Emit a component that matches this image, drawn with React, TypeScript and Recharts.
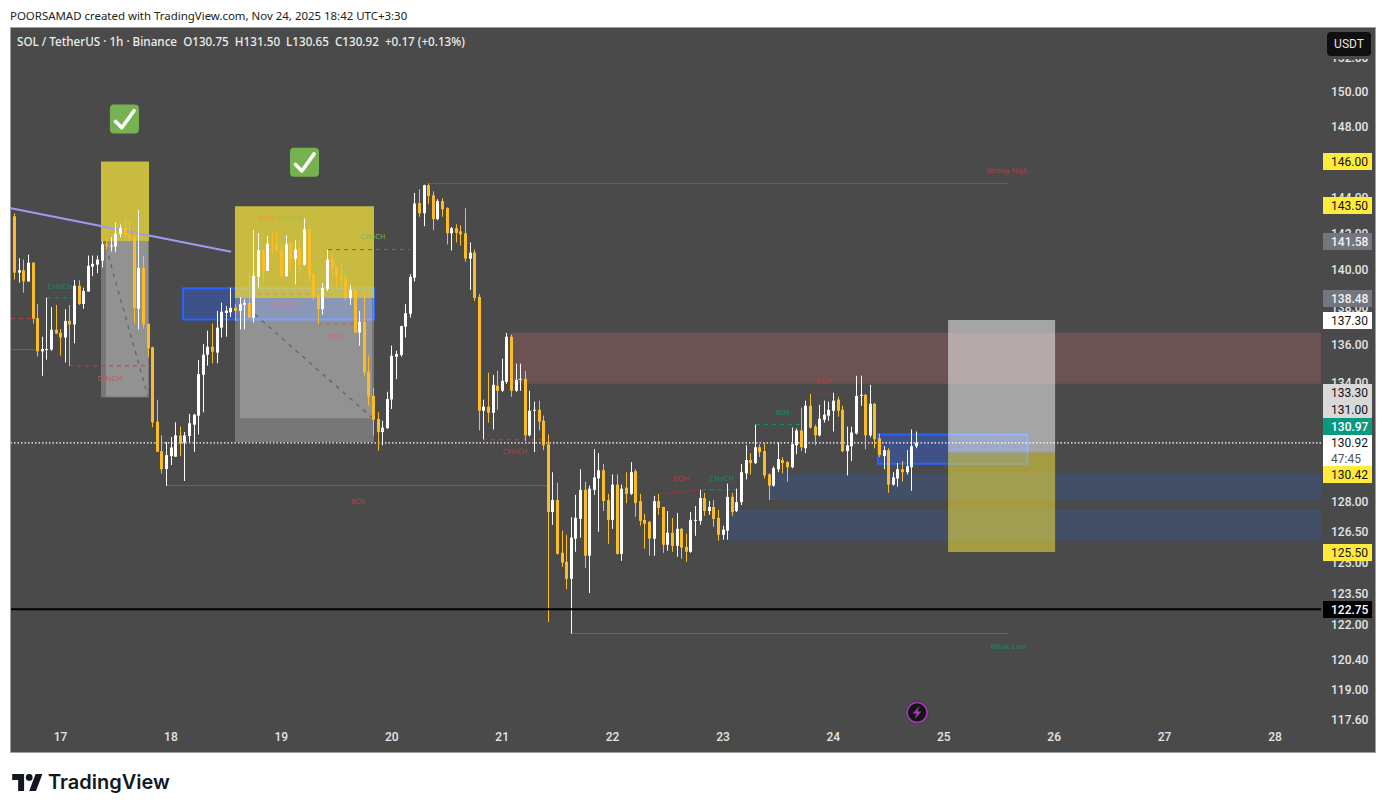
import React from "react";
import {
  ComposedChart, Bar, XAxis, YAxis, ReferenceArea, ReferenceLine, ReferenceDot,
} from "recharts";

// ---------- candle values (1h, first candle = Nov 16 14:00, hour 0 = Nov 17 00:00) ----------
const firstHour = -10;
const opens = [
  142.94,139.85,139.98,139.37,140.39,137.41,135.65,135.74,135.74,136.79,
  136.63,136.38,137.26,137.07,139.14,138.16,138.83,140.18,140.28,140.50,
  141.39,141.28,141.28,141.96,142.28,141.89,141.78,137.91,140.11,137.10,
  135.86,132.00,130.50,129.60,130.25,130.22,131.30,130.95,131.27,131.85,
  132.31,134.42,135.47,135.89,135.58,136.90,137.68,137.72,137.95,137.79,
  138.12,138.22,137.42,139.62,141.06,139.95,141.44,141.44,141.11,139.66,
  141.44,140.61,141.17,140.28,142.22,139.78,138.65,137.89,138.96,140.56,
  140.17,139.68,139.51,138.47,138.90,136.64,137.21,134.58,133.33,132.14,
  131.47,131.67,133.14,135.37,135.46,136.95,137.64,139.58,143.67,143.11,
  144.67,144.11,142.78,143.78,143.39,142.00,142.28,142.11,142.00,140.61,
  140.94,138.54,132.56,132.77,132.46,133.85,133.59,134.05,136.42,133.59,
  134.16,134.21,131.30,132.56,132.61,132.05,130.85,127.46,128.05,125.46,
  125.02,124.20,126.15,127.12,128.56,125.32,128.56,129.13,129.54,128.05,
  127.07,128.82,125.41,128.67,128.36,129.49,128.00,127.07,126.97,126.15,
  128.00,127.71,125.85,126.44,125.80,126.63,125.75,125.51,127.02,127.02,
  128.15,127.51,127.71,127.17,126.34,126.54,128.21,127.51,127.95,129.38,
  130.05,129.90,130.70,130.50,129.33,128.77,129.59,130.05,129.95,129.69,
  130.80,131.55,130.65,132.82,131.75,131.30,132.10,132.31,132.56,133.13,
  132.61,130.50,130.75,131.40,133.33,133.38,131.30,132.92,131.15,130.25,
  130.55,128.82,129.13,129.59,129.44,129.69,130.75,
];
const highs = [
  143.09,140.63,140.56,140.83,140.41,138.15,136.42,138.50,138.00,138.11,
  136.83,137.88,138.11,139.46,139.44,139.04,140.78,140.78,140.78,141.57,
  141.83,141.79,142.59,142.48,142.76,142.68,142.07,143.28,140.78,137.12,
  135.89,133.13,131.30,130.97,131.22,131.97,131.75,131.47,132.40,132.40,
  135.19,136.04,136.74,137.12,137.79,138.23,138.05,139.04,138.15,138.54,
  138.42,139.85,142.17,142.02,141.15,141.83,142.11,142.11,141.52,141.89,
  141.61,141.61,141.61,142.82,142.44,139.82,138.69,139.28,141.09,140.96,
  140.17,140.32,139.77,139.17,138.92,137.79,138.86,135.42,133.73,132.48,
  132.05,133.54,135.95,135.68,137.00,138.15,139.77,144.24,144.44,144.70,
  144.76,144.33,143.89,143.94,143.44,142.35,142.50,142.44,143.39,141.50,
  141.11,138.70,133.13,134.53,134.42,134.63,135.26,136.62,136.53,135.00,
  135.00,134.63,133.59,133.03,133.08,132.31,131.35,129.44,128.92,126.54,
  126.34,127.20,128.31,129.59,128.97,128.77,130.60,130.40,129.85,128.36,
  129.33,129.33,128.82,129.44,129.95,129.59,128.36,127.37,127.02,128.26,
  128.36,127.71,127.51,127.17,127.41,126.68,126.39,127.46,127.76,128.56,
  128.41,128.00,128.05,127.56,126.78,128.87,128.41,128.62,129.85,130.80,
  130.40,131.85,130.85,130.90,129.38,129.74,130.95,130.20,130.00,131.70,
  131.65,132.72,133.08,133.43,131.85,132.87,133.08,133.03,133.49,133.28,
  132.82,131.75,131.75,134.37,134.37,133.43,133.90,132.97,131.40,130.75,
  130.65,129.44,129.90,130.00,130.55,131.60,131.50,
];
const lows = [
  139.48,139.31,138.77,139.37,137.12,135.38,134.37,135.21,135.68,136.56,
  135.42,135.07,134.88,136.07,138.11,137.91,138.83,139.66,139.82,140.13,
  141.06,141.00,140.96,141.78,141.76,141.57,137.12,136.81,136.86,135.33,
  131.72,130.47,129.37,128.75,129.80,130.22,130.25,129.00,130.97,130.47,
  131.35,132.48,134.90,135.02,135.02,136.38,136.42,137.47,137.26,136.81,
  136.81,137.41,137.17,139.04,139.31,139.95,140.87,141.00,139.62,139.62,
  139.85,139.22,139.77,140.22,139.31,138.36,137.09,137.60,138.86,139.58,
  139.01,138.96,138.36,138.11,136.60,135.95,134.37,132.82,131.30,130.53,
  130.80,131.64,132.65,134.19,135.37,136.38,137.44,139.37,142.91,142.39,
  143.61,142.17,142.72,142.91,141.39,141.06,141.50,141.33,140.44,138.92,
  138.32,131.55,131.10,131.95,131.60,132.61,133.54,133.95,133.28,133.54,
  133.59,131.00,131.25,130.45,131.55,130.55,122.14,126.83,125.38,124.78,
  123.71,121.59,125.51,126.20,124.73,123.52,128.31,126.49,127.51,125.90,
  126.63,125.37,125.07,127.90,128.30,127.22,126.78,125.66,125.32,125.32,
  127.32,125.46,125.56,125.51,125.27,125.17,125.02,125.46,126.29,126.83,
  127.27,127.32,126.73,126.05,126.10,126.10,127.27,127.46,127.80,129.08,
  129.33,129.85,130.20,129.13,128.05,128.72,129.44,129.38,128.97,129.64,
  130.35,130.50,130.40,131.65,130.80,131.25,131.95,132.05,131.50,132.26,
  130.45,129.28,130.00,131.35,132.82,130.60,131.20,130.65,130.20,129.59,
  128.41,128.77,128.72,128.97,129.33,128.51,130.65,
];
const closes = [
  139.85,139.98,139.37,140.39,137.38,135.65,135.77,135.77,136.79,136.59,
  136.38,137.26,137.07,139.14,138.16,138.86,140.22,140.33,140.56,141.39,
  141.33,141.33,141.98,142.28,141.89,141.72,137.95,140.11,137.07,135.81,
  131.97,130.47,129.59,130.30,130.69,131.30,130.89,131.30,131.92,132.36,
  134.46,135.47,135.89,135.63,136.90,137.74,137.81,137.95,137.79,138.15,
  138.22,137.42,139.68,141.06,139.95,141.43,141.41,141.06,139.65,141.39,
  140.60,141.11,140.28,142.22,139.73,138.54,137.89,139.03,140.56,140.13,
  139.62,139.46,138.47,138.92,136.64,137.21,134.54,133.30,132.10,131.47,
  131.70,133.16,135.42,135.51,136.98,137.67,139.62,143.65,143.11,144.67,
  144.06,142.78,143.78,143.33,142.00,142.28,142.02,141.94,140.61,140.94,
  138.49,132.56,132.77,132.46,133.90,133.59,134.11,136.42,133.59,134.16,
  134.21,131.30,132.56,132.61,132.00,130.80,127.46,128.05,125.41,124.98,
  124.20,126.20,127.17,128.56,125.32,128.62,129.18,129.54,128.00,127.07,
  128.82,125.41,128.62,128.36,129.44,127.90,127.02,126.88,126.15,128.00,
  127.66,125.85,126.44,125.80,126.63,125.71,125.51,127.07,127.07,128.15,
  127.51,127.71,127.12,126.34,126.59,128.21,127.46,127.95,129.44,130.05,
  129.90,130.70,130.45,129.28,128.77,129.64,130.10,129.90,129.69,130.85,
  131.55,130.70,132.82,131.70,131.30,132.15,132.36,132.61,133.08,132.56,
  130.50,130.80,131.45,133.33,133.38,131.30,132.92,131.10,130.30,130.55,
  128.82,129.18,129.59,129.44,129.74,130.75,130.92,
];

// ---------- axis values ----------
const dayLabels = ["17","18","19","20","21","22","23","24","25","26","27","28"];
const dayTicks = dayLabels.map((_, i) => i * 24);
const priceTicks = [152,150,148,144,142,140,138,136,134,128,126.5,125,123.5,122,120.4,119,117.6];
const HOUR_DOMAIN = [-10.76, 274];
const PRICE_DOMAIN = [117.36, 153.7];

// ---------- drawings, in hours / prices ----------
const zones = [
  { x1: 97.72, x2: 274, y1: 133.95, y2: 136.63, fill: "#6B5353", op: 1 },
  { x1: 154.24, x2: 274, y1: 128.05, y2: 129.38, fill: "#434F66", op: 1 },
  { x1: 144.89, x2: 274, y1: 126.05, y2: 127.56, fill: "#434F66", op: 1 },
];
const blueBoxes = [
  { x1: 26.63, x2: 68.15, y1: 137.33, y2: 139.0 },
  { x1: 177.72, x2: 210.2, y1: 129.87, y2: 131.35 },
];
const overlayBoxes = [
  { x1: 8.8, x2: 19.24, y1: 141.58, y2: 146.0, fill: "#FFEB3B", op: 0.7 },
  { x1: 8.8, x2: 19.24, y1: 133.25, y2: 141.58, fill: "#FFFFFF", op: 0.25 },
  { x1: 9.89, x2: 19.02, y1: 133.3, y2: 141.58, fill: "#FFFFFF", op: 0.2 },
  { x1: 37.93, x2: 68.15, y1: 138.48, y2: 143.5, fill: "#FFEB3B", op: 0.7 },
  { x1: 37.93, x2: 68.15, y1: 130.97, y2: 138.48, fill: "#FFFFFF", op: 0.25 },
  { x1: 39.02, x2: 67.72, y1: 132.17, y2: 138.48, fill: "#FFFFFF", op: 0.2 },
  { x1: 192.93, x2: 216.2, y1: 130.42, y2: 137.3, fill: "#FFFFFF", op: 0.5 },
  { x1: 192.93, x2: 216.2, y1: 125.5, y2: 130.42, fill: "#FFEB3B", op: 0.5 },
];
const RED = "#C23B45";
const TEAL = "#089981";
const segments = [
  { x1: 79.89, x2: 205.98, y1: 144.76, y2: 144.76, c: RED, w: 1, d: "" },
  { x1: 23.15, x2: 105.76, y1: 128.77, y2: 128.77, c: RED, w: 1, d: "" },
  { x1: 110.98, x2: 205.98, y1: 121.6, y2: 121.6, c: TEAL, w: 1, d: "" },
  { x1: -10.76, x2: -5.11, y1: 135.74, y2: 135.74, c: RED, w: 1, d: "" },
  { x1: -10.76, x2: -5.33, y1: 137.38, y2: 137.38, c: RED, w: 1, d: "4 4" },
  { x1: -2.93, x2: 2.72, y1: 138.49, y2: 138.49, c: TEAL, w: 1, d: "4 4" },
  { x1: 1.85, x2: 19.46, y1: 134.89, y2: 134.89, c: RED, w: 1, d: "4 4" },
  { x1: 55.98, x2: 64.46, y1: 137.1, y2: 137.1, c: "#C8565E", w: 1, d: "4 4" },
  { x1: 42.72, x2: 52.72, y1: 142.11, y2: 142.11, c: "#A9C34F", w: 1, d: "4 4" },
  { x1: 58.15, x2: 75.98, y1: 141.11, y2: 141.11, c: TEAL, w: 1, d: "4 4" },
  { x1: 42.72, x2: 54.02, y1: 138.7, y2: 138.7, c: "#C8907A", w: 1, d: "4 4" },
  { x1: 91.85, x2: 104.89, y1: 131.08, y2: 131.08, c: RED, w: 1, d: "4 4" },
  { x1: 139.39, x2: 147.07, y1: 128.56, y2: 128.56, c: TEAL, w: 1, d: "4 4" },
  { x1: 151.2, x2: 161.4, y1: 131.85, y2: 131.85, c: TEAL, w: 1, d: "4 4" },
  { x1: 163.35, x2: 167.93, y1: 133.46, y2: 133.46, c: "#A8353F", w: 1, d: "1 1" },
  { x1: 130.33, x2: 139.39, y1: 128.36, y2: 128.56, c: "#A8353F", w: 1, d: "1 1" },
  { x1: 9.89, x2: 19.02, y1: 141.24, y2: 133.29, c: "#6A6A6A", w: 1.5, d: "4 5" },
  { x1: 42.28, x2: 67.72, y1: 137.6, y2: 132.21, c: "#6A6A6A", w: 1.5, d: "4 5" },
  { x1: -10.76, x2: 37.07, y1: 143.38, y2: 140.99, c: "#9C9CF0", w: 2, d: "" },
];
const SMALL_RED = "#B0404A";
const SMALL_TEAL = "#1F8572";
const smallLabels = [
  { t: "CHoCH", x: -0.11, y: 139.1, c: SMALL_TEAL },
  { t: "CHoCH", x: 10.76, y: 134.21, c: "#B85A62" },
  { t: "EQH", x: 44.9, y: 142.79, c: "#E0A032" },
  { t: "CHoCH", x: 49.9, y: 142.79, c: "#A5BE4A" },
  { t: "CHoCH", x: 67.93, y: 141.8, c: "#7FB05A" },
  { t: "CHoCH", x: 48.8, y: 138.11, c: "#C08896" },
  { t: "BOS", x: 59.83, y: 136.44, c: "#C06C78" },
  { t: "CHoCH", x: 98.8, y: 130.47, c: SMALL_RED },
  { t: "BOS", x: 64.67, y: 128.0, c: SMALL_RED },
  { t: "EQH", x: 134.9, y: 129.15, c: SMALL_RED },
  { t: "CHoCH", x: 143.7, y: 129.15, c: SMALL_TEAL },
  { t: "BOS", x: 157, y: 132.48, c: SMALL_TEAL },
  { t: "EQH", x: 166, y: 134.14, c: SMALL_RED },
  { t: "Strong High", x: 205.76, y: 145.5, c: SMALL_RED },
  { t: "Weak Low", x: 205.98, y: 120.98, c: SMALL_TEAL },
];
const checkMarks = [
  { x: 13.9, y: 148.43 },
  { x: 53.04, y: 145.97 },
];
const lastPrice = 130.92;
const blackLevel = 122.75;

const priceTags = [
  { t: "146.00", top: 153, h: 17, bg: "#FFEB3B", c: "#111" },
  { t: "143.50", top: 197, h: 17, bg: "#FFEB3B", c: "#111" },
  { t: "141.58", top: 233, h: 17, bg: "#73757F", c: "#F2F2F2" },
  { t: "138.48", top: 290, h: 17, bg: "#73757F", c: "#F2F2F2" },
  { t: "137.30", top: 312, h: 17, bg: "#FFFFFF", c: "#111" },
  { t: "133.30", top: 384, h: 17, bg: "#D9D9D9", c: "#111" },
  { t: "131.00", top: 401, h: 17, bg: "#D9D9D9", c: "#111" },
  { t: "130.97", top: 418, h: 17, bg: "#089981", c: "#FFF" },
  { t: "130.92", top: 435, h: 16, bg: "#FFFFFF", c: "#111" },
  { t: "47:45", top: 451, h: 15, bg: "#FFFFFF", c: "#555" },
  { t: "130.42", top: 466, h: 17, bg: "#FFEB3B", c: "#111" },
  { t: "125.50", top: 544, h: 17, bg: "#FFEB3B", c: "#111" },
  { t: "122.75", top: 601, h: 17, bg: "#000000", c: "#FFF" },
];

const headerText = "POORSAMAD created with TradingView.com, Nov 24, 2025 18:42 UTC+3:30";
const legendText = "SOL / TetherUS · 1h · Binance  O130.75  H131.50  L130.65  C130.92  +0.17 (+0.13%)";

const candles = opens.map((o, i) => ({
  hour: firstHour + i,
  open: o,
  high: highs[i],
  low: lows[i],
  close: closes[i],
}));

const UP = "#FFFFFF";
const DOWN = "#FBBC29";
const FONT = "Roboto, 'Noto Sans', sans-serif";

const colorOf = (d: any) => (d.close >= d.open ? UP : DOWN);

const Wick = (p: any) => {
  const cx = p.x + p.width / 2;
  return <rect x={Math.round(cx - 0.5)} y={p.y} width={1} height={p.height} fill={colorOf(p.payload)} />;
};
const Body = (p: any) => {
  const cx = p.x + p.width / 2;
  return <rect x={Math.round(cx - 1.5)} y={p.y} width={3} height={Math.max(1, p.height)} fill={colorOf(p.payload)} />;
};

const YTick = (p: any) => (
  <text x={p.x + 2} y={p.y + 4.5} fontSize={12} fontWeight={500} fontFamily={FONT} fill="#E6E6E6">
    {Number(p.payload.value).toFixed(2)}
  </text>
);
const XTick = (p: any) => (
  <text x={p.x} y={p.y + 8} textAnchor="middle" fontSize={12} fontWeight={500} fontFamily={FONT} fill="#E6E6E6">
    {dayLabels[dayTicks.indexOf(p.payload.value)]}
  </text>
);

const CheckShape = (p: any) => (
  <g transform={`translate(${p.cx},${p.cy})`}>
    <rect x={-14.5} y={-14.5} width={29} height={29} rx={4} fill="#76B24F" />
    <path d="M-9 2.3 L-2.7 8.8 L9.6 -8.3" fill="none" stroke="#fff" strokeWidth={3.6} strokeLinecap="round" strokeLinejoin="round" />
  </g>
);
const BoltShape = (p: any) => (
  <g transform={`translate(${p.cx},${p.cy})`}>
    <circle r={11.5} fill="#3a3a3a" />
    <circle r={10} fill="#141414" stroke="#A63BB8" strokeWidth={1.6} />
    <path d="M2.5 -6.5 L-4.5 1 L-0.5 1 L-2.5 6.5 L4.5 -1 L0.5 -1 Z" fill="#A63BB8" />
  </g>
);

export default function App() {
  return (
    <div style={{ position: "absolute", left: 0, top: 0, width: 1386, height: 812, background: "#fff", overflow: "hidden" }}>
      <div style={{ position: "absolute", left: 10, top: 8, fontFamily: "'Noto Sans', sans-serif", fontSize: 11.45, color: "#222", whiteSpace: "pre", lineHeight: "15px" }}>
        {headerText}
      </div>
      <div style={{ position: "absolute", left: 10, top: 27, width: 1364, height: 724, background: "#4A4A4A", border: "1px solid #A0A0A0" }} />

      <div style={{ position: "absolute", left: 0, top: 0 }}>
        <ComposedChart
          width={1386}
          height={812}
          data={candles}
          margin={{ top: 29, right: 10, bottom: 59, left: 11 }}
          barCategoryGap={0}
        >
          <XAxis
            type="number"
            dataKey="hour"
            domain={HOUR_DOMAIN}
            allowDataOverflow
            ticks={dayTicks}
            interval={0}
            height={28}
            axisLine={false}
            tickLine={false}
            tick={<XTick />}
          />
          <XAxis xAxisId="body" type="number" dataKey="hour" domain={HOUR_DOMAIN} allowDataOverflow hide height={0} />
          <YAxis
            type="number"
            orientation="right"
            scale="log"
            domain={PRICE_DOMAIN}
            allowDataOverflow
            ticks={priceTicks}
            interval={0}
            width={55}
            axisLine={false}
            tickLine={false}
            tick={<YTick />}
          />

          {zones.map((z, i) => (
            <ReferenceArea key={"z" + i} x1={z.x1} x2={z.x2} y1={z.y1} y2={z.y2} fill={z.fill} fillOpacity={z.op} stroke="none" />
          ))}
          {blueBoxes.map((z, i) => (
            <ReferenceArea key={"b" + i} x1={z.x1} x2={z.x2} y1={z.y1} y2={z.y2} fill="#2962FF" fillOpacity={0.35} stroke="#2962FF" strokeWidth={2} />
          ))}
          {overlayBoxes.map((z, i) => (
            <ReferenceArea key={"o" + i} x1={z.x1} x2={z.x2} y1={z.y1} y2={z.y2} fill={z.fill} fillOpacity={z.op} stroke="none" />
          ))}
          {segments.map((s, i) => (
            <ReferenceLine
              key={"s" + i}
              segment={[{ x: s.x1, y: s.y1 }, { x: s.x2, y: s.y2 }]}
              stroke={s.c}
              strokeWidth={s.w}
              strokeDasharray={s.d || undefined}
              zIndex={150}
            />
          ))}
          <ReferenceLine y={lastPrice} stroke="#FFFFFF" strokeDasharray="1.5 2" strokeWidth={1.2} zIndex={150} />
          <ReferenceLine y={blackLevel} stroke="#000000" strokeWidth={2} />

          <Bar dataKey={(d: any) => [d.low, d.high]} barSize={1} isAnimationActive={false} shape={<Wick />} />
          <Bar xAxisId="body" dataKey={(d: any) => [Math.min(d.open, d.close), Math.max(d.open, d.close)]} barSize={3} isAnimationActive={false} shape={<Body />} />

          {smallLabels.map((l, i) => (
            <ReferenceDot
              key={"l" + i}
              x={l.x}
              y={l.y}
              r={0}
              shape={(p: any) => (
                <text x={p.cx} y={p.cy + 2.5} textAnchor="middle" fontSize={7} fontFamily="'DejaVu Sans', sans-serif" fill={l.c}>
                  {l.t}
                </text>
              )}
            />
          ))}
          {checkMarks.map((c, i) => (
            <ReferenceDot key={"c" + i} x={c.x} y={c.y} r={0} shape={<CheckShape />} />
          ))}
          <ReferenceDot x={186.2} y={117.93} r={0} shape={<BoltShape />} />
        </ComposedChart>
      </div>

      <div style={{ position: "absolute", left: 17, top: 34, fontFamily: "'Noto Sans', sans-serif", fontSize: 11.66, fontWeight: 500, color: "#EDEDED", whiteSpace: "pre", lineHeight: "15px" }}>
        {legendText}
      </div>

      {priceTags.map((t, i) => (
        <div
          key={i}
          style={{
            position: "absolute", left: 1323, top: t.top, width: 49, height: t.h, background: t.bg, color: t.c,
            fontFamily: FONT, fontSize: 12, fontWeight: t.c === "#111" || t.c === "#555" ? 400 : 500,
            lineHeight: t.h + 1 + "px", paddingLeft: 8, boxSizing: "border-box", whiteSpace: "pre", overflow: "visible",
          }}
        >
          {t.t}
        </div>
      ))}

      <div style={{
        position: "absolute", left: 1327, top: 32, width: 44, height: 24, background: "#0F0F0F", borderRadius: 4,
        boxShadow: "0 0 0 3px #4A4A4A", color: "#E6E6E6", fontFamily: FONT, fontSize: 12, lineHeight: "24px", textAlign: "center",
      }}>USDT</div>

      <svg style={{ position: "absolute", left: 12, top: 774 }} width={31} height={17} viewBox="0 0 36 20">
        <path d="M14 20H7V7H0V0h14v20zM28 20h-8L27.5 0h8L28 20z" fill="#131722" />
        <circle cx="20" cy="4" r="4" fill="#131722" />
      </svg>
      <div style={{ position: "absolute", left: 48, top: 768, fontFamily: "Inter, sans-serif", fontWeight: 600, fontSize: 20, color: "#131722", lineHeight: "28px", whiteSpace: "pre" }}>
        TradingView
      </div>
    </div>
  );
}
